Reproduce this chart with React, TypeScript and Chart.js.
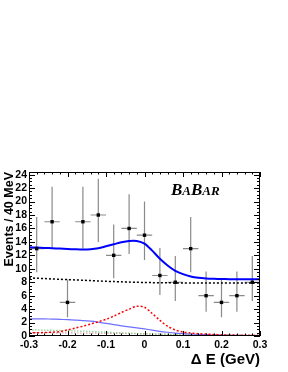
import React, { useEffect, useRef } from 'react';
import { Chart, registerables } from 'chart.js';

Chart.register(...registerables);

// ---- data ----
const binCenters = [-0.28, -0.24, -0.2, -0.16, -0.12, -0.08, -0.04, 0, 0.04, 0.08, 0.12, 0.16, 0.2, 0.24, 0.28];
const binHalfWidth = 0.02;
const counts = [13, 17, 5, 17, 18, 12, 16, 15, 9, 8, 13, 6, 5, 6, 8];
const errLow = [9.5, 13.0, 2.8, 13.0, 14.0, 8.6, 12.2, 11.3, 6.1, 5.2, 9.5, 3.6, 2.8, 3.6, 5.2];
const errHigh = [17.7, 22.2, 8.4, 22.2, 23.4, 16.6, 21.1, 20.0, 13.1, 11.9, 17.7, 9.6, 8.4, 9.6, 11.9];

const curveX = [-0.3, -0.28, -0.26, -0.24, -0.22, -0.2, -0.18, -0.16, -0.14, -0.12, -0.1, -0.08, -0.06, -0.04, -0.02, 0,
  0.02, 0.04, 0.06, 0.08, 0.1, 0.12, 0.14, 0.16, 0.18, 0.2, 0.22, 0.24, 0.26, 0.28, 0.3];
const totalFit = [13.2, 13.15, 13.1, 13.05, 13.0, 12.95, 12.9, 12.87, 12.9, 13.05, 13.35, 13.65, 13.95, 14.15, 14.15, 13.75,
  12.7, 11.5, 10.5, 9.7, 9.2, 8.85, 8.65, 8.55, 8.5, 8.47, 8.46, 8.45, 8.44, 8.44, 8.44];
const continuumBkg = [8.65, 8.59, 8.54, 8.49, 8.44, 8.39, 8.34, 8.29, 8.24, 8.19, 8.14, 8.1, 8.06, 8.02, 7.99, 7.96,
  7.94, 7.92, 7.91, 7.9, 7.9, 7.9, 7.9, 7.9, 7.9, 7.9, 7.9, 7.9, 7.9, 7.9, 7.9];
const signalPdf = [0.45, 0.48, 0.52, 0.56, 0.65, 0.9, 1.18, 1.45, 1.78, 2.12, 2.48, 2.95, 3.5, 4.0, 4.42, 4.28,
  3.35, 2.33, 1.45, 0.9, 0.6, 0.44, 0.35, 0.28, 0.22, 0.18, 0.15, 0.12, 0.1, 0.09, 0.08];
const bbBkgA = [2.55, 2.55, 2.54, 2.52, 2.48, 2.43, 2.37, 2.3, 2.2, 2.05, 1.88, 1.7, 1.52, 1.35, 1.2, 1.05,
  0.88, 0.7, 0.56, 0.44, 0.36, 0.29, 0.24, 0.19, 0.15, 0.12, 0.1, 0.08, 0.07, 0.06, 0.05];
const bbBkgB = [0.92, 0.9, 0.88, 0.86, 0.83, 0.8, 0.76, 0.72, 0.68, 0.63, 0.57, 0.52, 0.47, 0.42, 0.38, 0.34,
  0.3, 0.27, 0.24, 0.21, 0.18, 0.16, 0.14, 0.12, 0.1, 0.09, 0.08, 0.07, 0.06, 0.05, 0.05];
const bbBkgC = [0.5, 0.5, 0.49, 0.48, 0.47, 0.46, 0.45, 0.44, 0.43, 0.42, 0.41, 0.4, 0.38, 0.36, 0.34, 0.32,
  0.3, 0.28, 0.26, 0.24, 0.22, 0.21, 0.2, 0.19, 0.18, 0.17, 0.16, 0.16, 0.15, 0.15, 0.15];

const xTicks = [-0.3, -0.2, -0.1, 0, 0.1, 0.2, 0.3];
const xTickLabels = ['-0.3', '-0.2', '-0.1', '0', '0.1', '0.2', '0.3'];
const yTicks = [0, 2, 4, 6, 8, 10, 12, 14, 16, 18, 20, 22, 24];
const yTickLabels = ['0', '2', '4', '6', '8', '10', '12', '14', '16', '18', '20', '22', '24'];

const xTitle = 'Δ E (GeV)';
const yTitle = 'Events / 40 MeV';

const toXY = (ys: number[]) => curveX.map((x, i) => ({ x, y: ys[i] }));

const rootPlugin = {
  id: 'rootStyle',
  beforeDatasetsDraw(chart: any) {
    const { ctx } = chart;
    const xs = chart.scales.x;
    const ys = chart.scales.y;
    ctx.save();
    ctx.strokeStyle = '#8a8a8a';
    ctx.lineWidth = 1.2;
    binCenters.forEach((c, i) => {
      const px = xs.getPixelForValue(c);
      const py = ys.getPixelForValue(counts[i]);
      ctx.beginPath();
      ctx.moveTo(px, ys.getPixelForValue(errLow[i]));
      ctx.lineTo(px, ys.getPixelForValue(errHigh[i]));
      ctx.moveTo(xs.getPixelForValue(c - binHalfWidth), py);
      ctx.lineTo(xs.getPixelForValue(c + binHalfWidth), py);
      ctx.stroke();
    });
    ctx.restore();
  },
  afterDraw(chart: any) {
    const { ctx, chartArea } = chart;
    const { left, right, top, bottom } = chartArea;
    const xs = chart.scales.x;
    const ys = chart.scales.y;
    ctx.save();
    ctx.strokeStyle = '#000';
    ctx.lineWidth = 1;
    ctx.strokeRect(left + 0.5, top + 0.5, right - left - 1, bottom - top - 1);
    ctx.beginPath();
    for (let i = 0; i <= 30; i++) {
      const v = -0.3 + i * 0.02;
      const px = Math.round(xs.getPixelForValue(v)) + 0.5;
      const len = i % 5 === 0 ? 5 : 2.5;
      ctx.moveTo(px, bottom);
      ctx.lineTo(px, bottom - len);
      ctx.moveTo(px, top);
      ctx.lineTo(px, top + len);
    }
    for (let i = 0; i <= 48; i++) {
      const v = i * 0.5;
      const py = Math.round(ys.getPixelForValue(v)) + 0.5;
      const len = i % 4 === 0 ? 6 : 3;
      ctx.moveTo(left, py);
      ctx.lineTo(left + len, py);
      ctx.moveTo(right, py);
      ctx.lineTo(right - len, py);
    }
    ctx.stroke();

    // axis titles
    ctx.fillStyle = '#000';
    ctx.font = 'bold 12.5px "Liberation Sans", Arial, sans-serif';
    ctx.save();
    ctx.translate(10, top);
    ctx.rotate(-Math.PI / 2);
    ctx.textAlign = 'right';
    ctx.textBaseline = 'middle';
    ctx.fillText(yTitle, 0, 0);
    ctx.restore();

    ctx.font = 'bold 15px "Liberation Sans", Arial, sans-serif';
    ctx.textAlign = 'right';
    ctx.textBaseline = 'alphabetic';
    ctx.fillText(xTitle, right, 364);

    // BABAR logo
    const parts: [string, number][] = [['B', 17], ['A', 13], ['B', 17], ['AR', 13]];
    let x = 171;
    ctx.textAlign = 'left';
    parts.forEach(([t, s]) => {
      ctx.font = `italic bold ${s}px "Liberation Serif", "Times New Roman", serif`;
      ctx.fillText(t, x, 195);
      x += ctx.measureText(t).width;
    });
    ctx.restore();
  },
};

export default function App() {
  const ref = useRef<HTMLCanvasElement>(null);
  useEffect(() => {
    document.body.style.margin = '0';
    if (!ref.current) return;
    const tickFont = { family: '"Liberation Sans", Arial, sans-serif', size: 10.5, weight: 'bold' as const };
    const chart = new Chart(ref.current, {
      type: 'scatter',
      data: {
        datasets: [
          {
            label: 'data',
            data: binCenters.map((x, i) => ({ x, y: counts[i] })),
            pointStyle: 'rect',
            pointRadius: 2.4,
            backgroundColor: '#000',
            borderColor: '#000',
            borderWidth: 0,
            showLine: false,
            order: 0,
          },
          {
            label: 'total',
            data: toXY(totalFit),
            showLine: true,
            borderColor: '#0000ff',
            borderWidth: 2,
            pointRadius: 0,
            tension: 0.3,
            order: 1,
          },
          {
            label: 'continuum',
            data: toXY(continuumBkg),
            showLine: true,
            borderColor: '#000',
            borderWidth: 1.5,
            borderDash: [2, 2],
            pointRadius: 0,
            tension: 0.3,
            order: 2,
          },
          {
            label: 'signal',
            data: toXY(signalPdf),
            showLine: true,
            borderColor: '#ff0000',
            borderWidth: 1.5,
            borderDash: [2, 2],
            pointRadius: 0,
            tension: 0.3,
            order: 3,
          },
          {
            label: 'bbA',
            data: toXY(bbBkgA),
            showLine: true,
            borderColor: '#6f6fff',
            borderWidth: 1.2,
            pointRadius: 0,
            tension: 0.3,
            order: 4,
          },
          {
            label: 'bbB',
            data: toXY(bbBkgB),
            showLine: true,
            borderColor: '#8fcf8f',
            borderWidth: 1.2,
            borderDash: [1.5, 1.5],
            pointRadius: 0,
            tension: 0.3,
            order: 5,
          },
          {
            label: 'bbC',
            data: toXY(bbBkgC),
            showLine: true,
            borderColor: '#d0a0a0',
            borderWidth: 1.2,
            borderDash: [1.5, 1.5],
            pointRadius: 0,
            tension: 0.3,
            order: 6,
          },
        ],
      },
      options: {
        animation: false,
        responsive: false,
        layout: { padding: { top: 172, right: 28, left: 0, bottom: 0 } },
        plugins: { legend: { display: false }, tooltip: { enabled: false } },
        scales: {
          x: {
            type: 'linear',
            min: -0.3,
            max: 0.3,
            afterBuildTicks: (s: any) => { s.ticks = xTicks.map((v) => ({ value: v })); },
            afterFit: (s: any) => { s.height = 36; },
            ticks: {
              callback: (_v: any, i: number) => xTickLabels[i],
              font: tickFont,
              color: '#000',
              padding: 3,
              maxRotation: 0,
              autoSkip: false,
            },
            grid: { display: false, drawTicks: false },
            border: { display: false },
          },
          y: {
            type: 'linear',
            min: 0,
            max: 24.4,
            afterBuildTicks: (s: any) => { s.ticks = yTicks.map((v) => ({ value: v })); },
            afterFit: (s: any) => { s.width = 29; },
            ticks: {
              callback: (_v: any, i: number) => yTickLabels[i],
              font: tickFont,
              color: '#000',
              padding: 2,
              autoSkip: false,
            },
            grid: { display: false, drawTicks: false },
            border: { display: false },
          },
        },
      },
      plugins: [rootPlugin],
    });
    return () => chart.destroy();
  }, []);
  return (
    <div style={{ position: 'fixed', left: 0, top: 0, width: 288, height: 372, background: '#fff' }}>
      <canvas ref={ref} width={288} height={372} />
    </div>
  );
}
